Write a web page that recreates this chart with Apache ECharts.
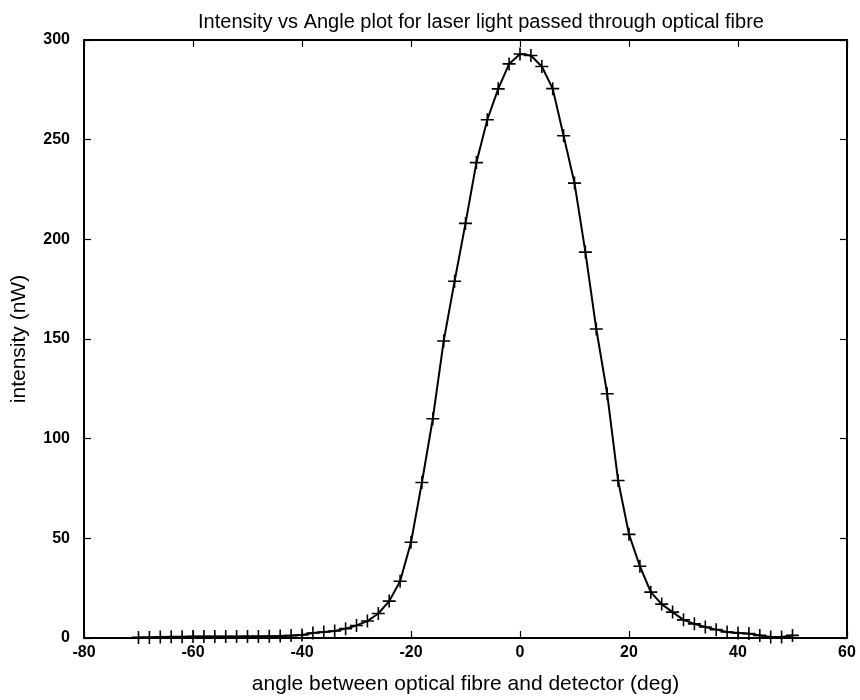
<!DOCTYPE html>
<html>
<head>
<meta charset="utf-8">
<script src="https://cdn.jsdelivr.net/npm/echarts@6/dist/echarts.min.js"></script>
<style>html,body{margin:0;padding:0;background:#fff;}#chart{width:860px;height:700px;}</style>
</head>
<body>
<div id="chart"></div>
<script>
var angles = [-70,-68,-66,-64,-62,-60,-58,-56,-54,-52,-50,-48,-46,-44,-42,-40,-38,-36,-34,-32,-30,-28,-26,-24,-22,-20,-18,-16,-14,-12,-10,-8,-6,-4,-2,0,2,4,6,8,10,12,14,16,18,20,22,24,26,28,30,32,34,36,38,40,42,44,46,48,50];
var intensity = [0.3,0.3,0.5,0.6,0.6,0.7,0.7,0.7,0.7,0.7,0.8,0.8,0.9,1.0,1.2,1.5,2.5,3.0,3.5,4.7,6.3,8.5,12.3,18.5,28.5,48,78,110,149,179,208,238.5,260,275.5,288,293,292.2,286.7,275.6,252,228.2,193.6,155,122.5,79,52,36,23,17,13,9.1,7.1,5.5,4.2,3,2.5,2.2,1.3,0.5,0.5,1.3];
var xTicks = [-80,-60,-40,-20,0,20,40,60];
var yTicks = [0,50,100,150,200,250,300];
var titleText = 'Intensity vs Angle plot for laser light passed through optical fibre';
var xName = 'angle between optical fibre and detector (deg)';
var yName = 'intensity (nW)';

var data = angles.map(function(a,i){return [a,intensity[i]];});
var chart = echarts.init(document.getElementById('chart'), null, {renderer:'canvas'});
var font = '"Liberation Sans", Arial, sans-serif';
var tickStyle = {show:true, inside:true, length:7, lineStyle:{color:'#000', width:1.2}};
chart.setOption({
  backgroundColor:'#fff',
  animation:false,
  title:{text:titleText, left:476, top:7, textAlign:'center',
    textStyle:{fontFamily:font, fontSize:20, fontWeight:'normal', color:'#000'}},
  grid:{left:84, right:13, top:40, bottom:59, containLabel:false},
  xAxis:[{type:'value', min:xTicks[0], max:xTicks[xTicks.length-1], interval:20, position:'bottom',
      name:xName, nameLocation:'middle', nameGap:36,
      nameTextStyle:{fontFamily:font, fontSize:21, color:'#000'},
      axisLine:{show:true, onZero:false, lineStyle:{color:'#000', width:2}},
      axisTick:tickStyle, splitLine:{show:false},
      axisLabel:{fontFamily:font, fontSize:16, fontWeight:'bold', color:'#000', margin:7}},
    {type:'value', min:xTicks[0], max:xTicks[xTicks.length-1], interval:20, position:'top',
      axisLine:{show:true, onZero:false, lineStyle:{color:'#000', width:2}},
      axisTick:tickStyle, axisLabel:{show:false}, splitLine:{show:false}}],
  yAxis:[{type:'value', min:yTicks[0], max:yTicks[yTicks.length-1], interval:50, position:'left',
      name:yName, nameLocation:'middle', nameGap:54, nameRotate:90,
      nameTextStyle:{fontFamily:font, fontSize:21, color:'#000'},
      axisLine:{show:true, onZero:false, lineStyle:{color:'#000', width:2}},
      axisTick:tickStyle, splitLine:{show:false},
      axisLabel:{fontFamily:font, fontSize:16, fontWeight:'bold', color:'#000', margin:14}},
    {type:'value', min:yTicks[0], max:yTicks[yTicks.length-1], interval:50, position:'right',
      axisLine:{show:true, onZero:false, lineStyle:{color:'#000', width:2}},
      axisTick:tickStyle, axisLabel:{show:false}, splitLine:{show:false}}],
  series:[{type:'line', xAxisIndex:0, yAxisIndex:0, data:data,
    lineStyle:{color:'#000', width:2},
    symbol:'path://M0,-1 L0,1 M-1,0 L1,0', symbolSize:13, showSymbol:true,
    itemStyle:{color:'#000', borderColor:'#000', borderWidth:1.6},
    emphasis:{disabled:true}}]
});
</script>
</body>
</html>
